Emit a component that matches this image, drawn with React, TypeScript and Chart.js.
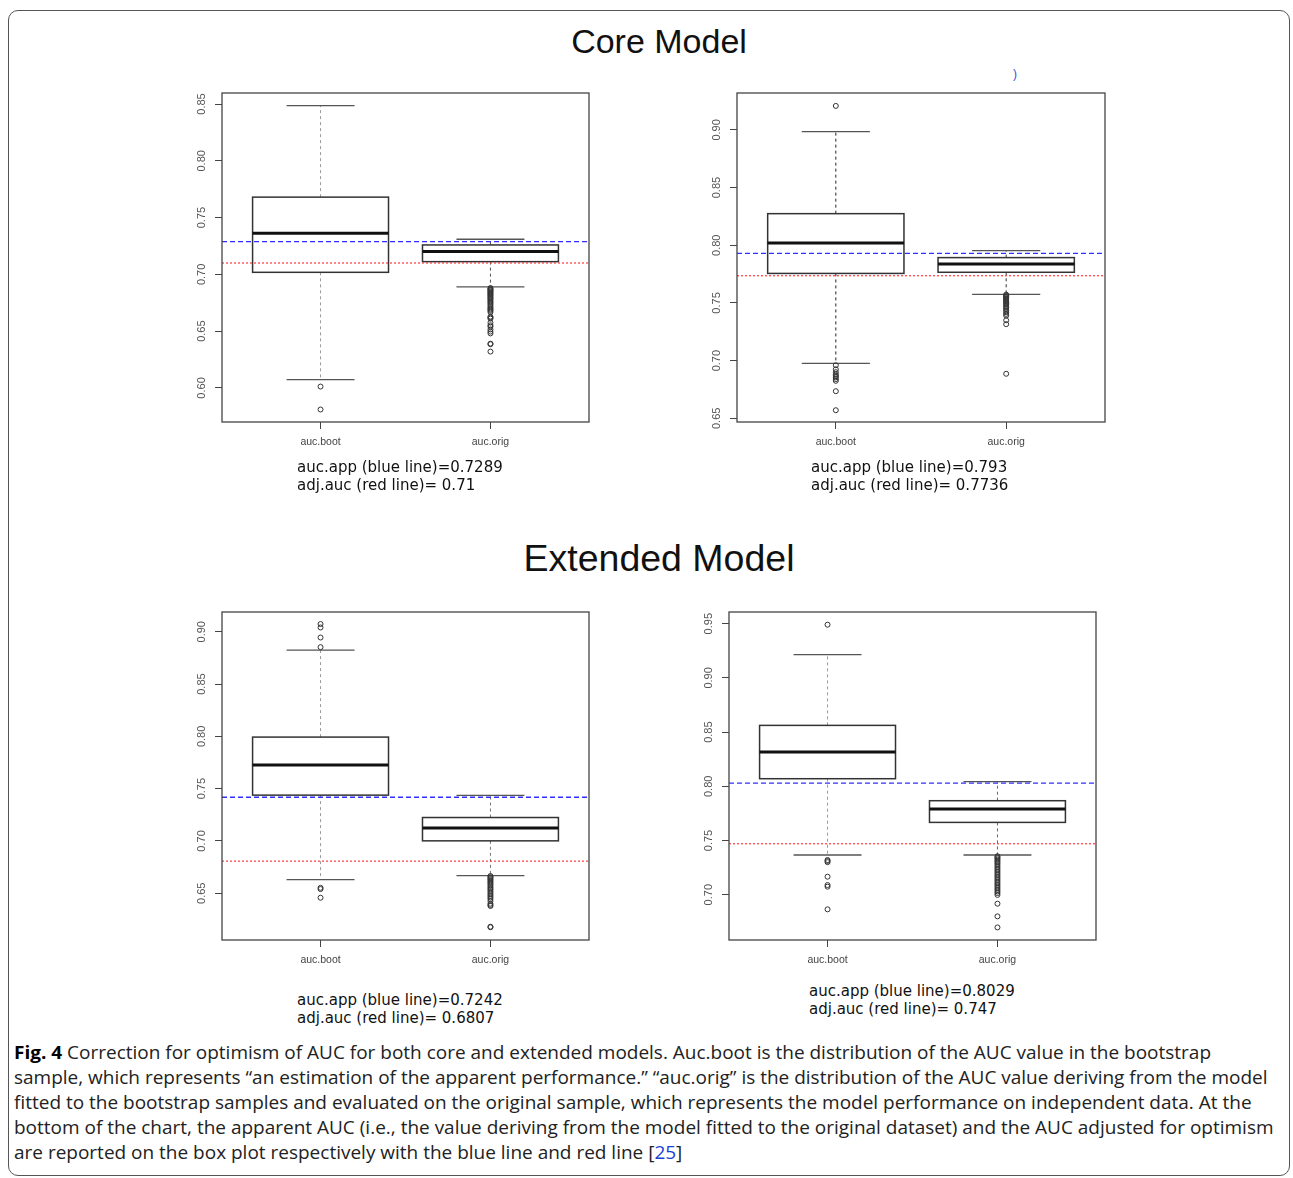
import React, { useEffect, useLayoutEffect, useRef, useState } from 'react';
import { Chart, registerables } from 'chart.js';

Chart.register(...registerables);

// ---------------- DATA ----------------
const CATEGORIES = ['auc.boot', 'auc.orig'];
const X_RANGE = [0.42, 2.58];

// box stats: [lower whisker, Q1, median, Q3, upper whisker]
// Core model, left panel
const CORE_L_RANGE = [0.570, 0.8597];
const CORE_L_TICKS = [0.6, 0.65, 0.7, 0.75, 0.8, 0.85];
const CORE_L_BOOT = [0.6073, 0.7018, 0.7362, 0.768, 0.8485];
const CORE_L_ORIG = [0.6889, 0.7112, 0.7202, 0.7259, 0.7309];
const CORE_L_BOOT_OUT = [0.6012, 0.581];
const CORE_L_ORIG_OUT = [0.688, 0.6872, 0.6865, 0.6858, 0.685, 0.6843, 0.6835, 0.6826, 0.6818, 0.681, 0.68, 0.6792, 0.6783, 0.6772, 0.676, 0.675, 0.6738, 0.6725, 0.6712, 0.67, 0.669, 0.668, 0.6668, 0.6628, 0.662, 0.661, 0.6575, 0.6552, 0.654, 0.6515, 0.6496, 0.648, 0.639, 0.6385, 0.632];
const CORE_L_LINES = [0.7289, 0.71]; // blue (auc.app), red (adj.auc)

// Core model, right panel
const CORE_R_RANGE = [0.6468, 0.932];
const CORE_R_TICKS = [0.65, 0.7, 0.75, 0.8, 0.85, 0.9];
const CORE_R_BOOT = [0.6977, 0.7756, 0.802, 0.8274, 0.8986];
const CORE_R_ORIG = [0.7575, 0.7766, 0.7838, 0.7893, 0.7954];
const CORE_R_BOOT_OUT = [0.9208, 0.696, 0.6925, 0.69, 0.688, 0.6868, 0.6855, 0.684, 0.6825, 0.6735, 0.657];
const CORE_R_ORIG_OUT = [0.7572, 0.7565, 0.7558, 0.755, 0.7542, 0.7535, 0.7525, 0.7515, 0.7505, 0.7495, 0.7485, 0.7472, 0.746, 0.7448, 0.7435, 0.742, 0.7405, 0.739, 0.735, 0.7316, 0.6886];
const CORE_R_LINES = [0.793, 0.7736];

// Extended model, left panel
const EXT_L_RANGE = [0.6053, 0.9189];
const EXT_L_TICKS = [0.65, 0.7, 0.75, 0.8, 0.85, 0.9];
const EXT_L_BOOT = [0.663, 0.7438, 0.7725, 0.7993, 0.8825];
const EXT_L_ORIG = [0.6668, 0.7001, 0.7125, 0.7224, 0.7435];
const EXT_L_BOOT_OUT = [0.9074, 0.9041, 0.8945, 0.8853, 0.6552, 0.654, 0.6457];
const EXT_L_ORIG_OUT = [0.6665, 0.6655, 0.6645, 0.6635, 0.6625, 0.6612, 0.66, 0.6588, 0.6575, 0.656, 0.6548, 0.6535, 0.652, 0.6505, 0.649, 0.6475, 0.646, 0.6445, 0.6425, 0.64, 0.6388, 0.6378, 0.618, 0.6175];
const EXT_L_LINES = [0.7418, 0.6807]; // blue line as drawn in the picture

// Extended model, right panel
const EXT_R_RANGE = [0.6582, 0.9608];
const EXT_R_TICKS = [0.7, 0.75, 0.8, 0.85, 0.9, 0.95];
const EXT_R_BOOT = [0.7366, 0.807, 0.8316, 0.8562, 0.9214];
const EXT_R_ORIG = [0.7366, 0.7667, 0.779, 0.7867, 0.8043];
const EXT_R_BOOT_OUT = [0.9491, 0.732, 0.7311, 0.73, 0.7166, 0.7089, 0.7074, 0.6865];
const EXT_R_ORIG_OUT = [0.7355, 0.7345, 0.7335, 0.7322, 0.731, 0.7298, 0.7285, 0.727, 0.7255, 0.724, 0.7225, 0.721, 0.7195, 0.718, 0.7165, 0.715, 0.7135, 0.712, 0.7105, 0.709, 0.7075, 0.706, 0.7045, 0.703, 0.7015, 0.6998, 0.6917, 0.68, 0.6698];
const EXT_R_LINES = [0.8029, 0.747];

const TITLES = ['Core Model', 'Extended Model'];
const NOTES = [
  ['auc.app (blue line)=0.7289', 'adj.auc (red line)= 0.71'],
  ['auc.app (blue line)=0.793', 'adj.auc (red line)= 0.7736'],
  ['auc.app (blue line)=0.7242', 'adj.auc (red line)= 0.6807'],
  ['auc.app (blue line)=0.8029', 'adj.auc (red line)= 0.747'],
];
const CAPTION_LINES = [
  ' Correction for optimism of AUC for both core and extended models. Auc.boot is the distribution of the AUC value in the bootstrap',
  'sample, which represents \u201Can estimation of the apparent performance.\u201D \u201Cauc.orig\u201D is the distribution of the AUC value deriving from the model',
  'fitted to the bootstrap samples and evaluated on the original sample, which represents the model performance on independent data. At the',
  'bottom of the chart, the apparent AUC (i.e., the value deriving from the model fitted to the original dataset) and the AUC adjusted for optimism',
  'are reported on the box plot respectively with the blue line and red line [',
];

// ---------------- LAYOUT ----------------
type Panel = {
  area: number[]; range: number[]; ticks: number[];
  boot: number[]; orig: number[]; bootOut: number[]; origOut: number[];
  lines: number[]; whisk: string[]; note: string[]; notePos: number[];
};

const PANELS: Panel[] = [
  { area: [222, 93, 589, 422], range: CORE_L_RANGE, ticks: CORE_L_TICKS, boot: CORE_L_BOOT, orig: CORE_L_ORIG, bootOut: CORE_L_BOOT_OUT, origOut: CORE_L_ORIG_OUT, lines: CORE_L_LINES, whisk: ['#9a9a9a', '#555'], note: NOTES[0], notePos: [297, 458] },
  { area: [737, 93, 1105, 422], range: CORE_R_RANGE, ticks: CORE_R_TICKS, boot: CORE_R_BOOT, orig: CORE_R_ORIG, bootOut: CORE_R_BOOT_OUT, origOut: CORE_R_ORIG_OUT, lines: CORE_R_LINES, whisk: ['#222', '#333'], note: NOTES[1], notePos: [811, 458] },
  { area: [222, 612, 589, 940], range: EXT_L_RANGE, ticks: EXT_L_TICKS, boot: EXT_L_BOOT, orig: EXT_L_ORIG, bootOut: EXT_L_BOOT_OUT, origOut: EXT_L_ORIG_OUT, lines: EXT_L_LINES, whisk: ['#9a9a9a', '#777'], note: NOTES[2], notePos: [297, 991] },
  { area: [729, 612, 1096, 940], range: EXT_R_RANGE, ticks: EXT_R_TICKS, boot: EXT_R_BOOT, orig: EXT_R_ORIG, bootOut: EXT_R_BOOT_OUT, origOut: EXT_R_ORIG_OUT, lines: EXT_R_LINES, whisk: ['#9a9a9a', '#666'], note: NOTES[3], notePos: [809, 982] },
];

const AXIS_W = 60;
const AXIS_H = 40;
const PAD_T = 10;
const PAD_R = 10;

function BoxPanel({ p }: { p: Panel }) {
  const ref = useRef<HTMLCanvasElement | null>(null);
  const [L, T, R, B] = p.area;
  const width = R - L + AXIS_W + PAD_R;
  const height = B - T + PAD_T + AXIS_H;

  useEffect(() => {
    if (!ref.current) return;
    const boxPlugin = {
      id: 'rbox',
      beforeDatasetsDraw(chart: any) {
        const { ctx, scales: { x, y } } = chart;
        [p.boot, p.orig].forEach((s, i) => {
          const c = i + 1;
          const xc = x.getPixelForValue(c);
          const xl = x.getPixelForValue(c - 0.4);
          const xr = x.getPixelForValue(c + 0.4);
          const cl = x.getPixelForValue(c - 0.2);
          const cr = x.getPixelForValue(c + 0.2);
          const [lo, q1, med, q3, hi] = s.map((v) => y.getPixelForValue(v));
          ctx.save();
          ctx.strokeStyle = p.whisk[i];
          ctx.lineWidth = 1;
          ctx.setLineDash([3, 3]);
          ctx.beginPath();
          ctx.moveTo(xc, q3); ctx.lineTo(xc, hi);
          ctx.moveTo(xc, q1); ctx.lineTo(xc, lo);
          ctx.stroke();
          ctx.setLineDash([]);
          ctx.strokeStyle = '#555';
          ctx.lineWidth = 1.3;
          ctx.beginPath();
          ctx.moveTo(cl, hi); ctx.lineTo(cr, hi);
          ctx.moveTo(cl, lo); ctx.lineTo(cr, lo);
          ctx.stroke();
          ctx.strokeStyle = '#333';
          ctx.lineWidth = 1.5;
          ctx.strokeRect(xl, q3, xr - xl, q1 - q3);
          ctx.strokeStyle = '#111';
          ctx.lineWidth = 3;
          ctx.beginPath();
          ctx.moveTo(xl, med); ctx.lineTo(xr, med);
          ctx.stroke();
          ctx.restore();
        });
      },
      afterDatasetsDraw(chart: any) {
        const { ctx, chartArea: a, scales: { y } } = chart;
        ctx.save();
        const yb = y.getPixelForValue(p.lines[0]);
        ctx.strokeStyle = '#2f2fff';
        ctx.lineWidth = 1.3;
        ctx.setLineDash([5, 3]);
        ctx.beginPath(); ctx.moveTo(a.left, yb); ctx.lineTo(a.right, yb); ctx.stroke();
        const yr = y.getPixelForValue(p.lines[1]);
        ctx.strokeStyle = '#ff3b3b';
        ctx.lineWidth = 1.2;
        ctx.setLineDash([2, 2]);
        ctx.beginPath(); ctx.moveTo(a.left, yr); ctx.lineTo(a.right, yr); ctx.stroke();
        ctx.setLineDash([]);
        ctx.strokeStyle = '#444';
        ctx.lineWidth = 1.3;
        ctx.strokeRect(a.left, a.top, a.right - a.left, a.bottom - a.top);
        ctx.restore();
      },
    };

    const pointStyle = {
      showLine: false,
      pointRadius: 2.5,
      pointBorderWidth: 1,
      pointBorderColor: '#333',
      pointBackgroundColor: 'rgba(255,255,255,0)',
      pointHoverRadius: 2.5,
    };

    const chart = new Chart(ref.current, {
      type: 'scatter',
      data: {
        datasets: [
          { data: p.bootOut.map((v) => ({ x: 1, y: v })), ...pointStyle },
          { data: p.origOut.map((v) => ({ x: 2, y: v })), ...pointStyle },
        ],
      },
      options: {
        responsive: false,
        animation: false,
        devicePixelRatio: 1,
        layout: { padding: { top: PAD_T, right: PAD_R, left: 0, bottom: 0 } },
        plugins: { legend: { display: false }, tooltip: { enabled: false } },
        scales: {
          x: {
            type: 'linear',
            min: X_RANGE[0],
            max: X_RANGE[1],
            afterBuildTicks: (s: any) => { s.ticks = CATEGORIES.map((_, i) => ({ value: i + 1 })); },
            afterFit: (s: any) => { s.height = AXIS_H; },
            ticks: {
              autoSkip: false,
              maxRotation: 0,
              padding: 7,
              color: '#444',
              font: { family: 'Liberation Sans, Arial, sans-serif', size: 10.5 },
              callback: (v: any) => CATEGORIES[Math.round(Number(v)) - 1] ?? '',
            },
            grid: { drawOnChartArea: false, drawTicks: true, tickLength: 7, tickColor: '#444', tickWidth: 1 },
            border: { display: false },
          },
          y: {
            type: 'linear',
            min: p.range[0],
            max: p.range[1],
            afterBuildTicks: (s: any) => { s.ticks = p.ticks.map((v) => ({ value: v })); },
            afterFit: (s: any) => { s.width = AXIS_W; },
            ticks: {
              minRotation: 90,
              maxRotation: 90,
              crossAlign: 'center',
              padding: 2,
              color: '#555',
              font: { family: 'Liberation Sans, Arial, sans-serif', size: 11 },
              callback: (v: any) => Number(v).toFixed(2),
            },
            grid: { drawOnChartArea: false, drawTicks: true, tickLength: 7, tickColor: '#444', tickWidth: 1 },
            border: { display: false },
          },
        },
      } as any,
      plugins: [boxPlugin as any],
    });
    return () => chart.destroy();
  }, []);

  return (
    <canvas
      ref={ref}
      width={width}
      height={height}
      style={{ position: 'absolute', left: L - AXIS_W, top: T - PAD_T, width, height }}
    />
  );
}

function Caption() {
  const ref0 = useRef<HTMLDivElement | null>(null);
  const [k, setK] = useState(1);
  useLayoutEffect(() => {
    if (ref0.current) {
      const w = ref0.current.getBoundingClientRect().width;
      if (w > 0) setK(1197 / w);
    }
  }, []);
  const base: React.CSSProperties = {
    position: 'absolute',
    left: 14,
    whiteSpace: 'pre',
    fontFamily: '"Open Sans", "Noto Sans", sans-serif',
    fontSize: 18,
    lineHeight: '25px',
    color: '#222',
    transformOrigin: 'left top',
    transform: `scaleX(${k})`,
  };
  return (
    <>
      {CAPTION_LINES.map((line, i) => (
        <div key={i} ref={i === 0 ? ref0 : undefined} style={{ ...base, top: 1040 + i * 25 }}>
          {i === 0 && <b style={{ color: '#000' }}>Fig. 4</b>}
          {line}
          {i === 4 && (
            <>
              <span style={{ color: '#1a3fd6' }}>25</span>]
            </>
          )}
        </div>
      ))}
    </>
  );
}

export default function App() {
  return (
    <div style={{ position: 'absolute', left: 0, top: 0, width: 1293, height: 1178, background: '#fff', overflow: 'hidden' }}>
      <div style={{ position: 'absolute', left: 8, top: 10, width: 1280, height: 1164, border: '1px solid #555', borderRadius: 10 }} />
      <div style={{ position: 'absolute', left: 359, width: 600, top: 24, textAlign: 'center', fontFamily: 'Liberation Sans, Arial, sans-serif', fontSize: 34, lineHeight: 1, color: '#111' }}>{TITLES[0]}</div>
      <div style={{ position: 'absolute', left: 359, width: 600, top: 540, textAlign: 'center', fontFamily: 'Liberation Sans, Arial, sans-serif', fontSize: 37.5, lineHeight: 1, color: '#111' }}>{TITLES[1]}</div>
      <div style={{ position: 'absolute', left: 1013, top: 67, fontFamily: 'Liberation Sans, Arial, sans-serif', fontSize: 12, color: '#3355cc' }}>)</div>
      {PANELS.map((p, i) => (
        <React.Fragment key={i}>
          <BoxPanel p={p} />
          <div style={{ position: 'absolute', left: p.notePos[0], top: p.notePos[1], fontFamily: '"DejaVu Sans", Verdana, sans-serif', fontSize: 15, lineHeight: '18px', color: '#111', whiteSpace: 'pre' }}>
            {p.note[0]}
            <br />
            {p.note[1]}
          </div>
        </React.Fragment>
      ))}
      <Caption />
    </div>
  );
}
